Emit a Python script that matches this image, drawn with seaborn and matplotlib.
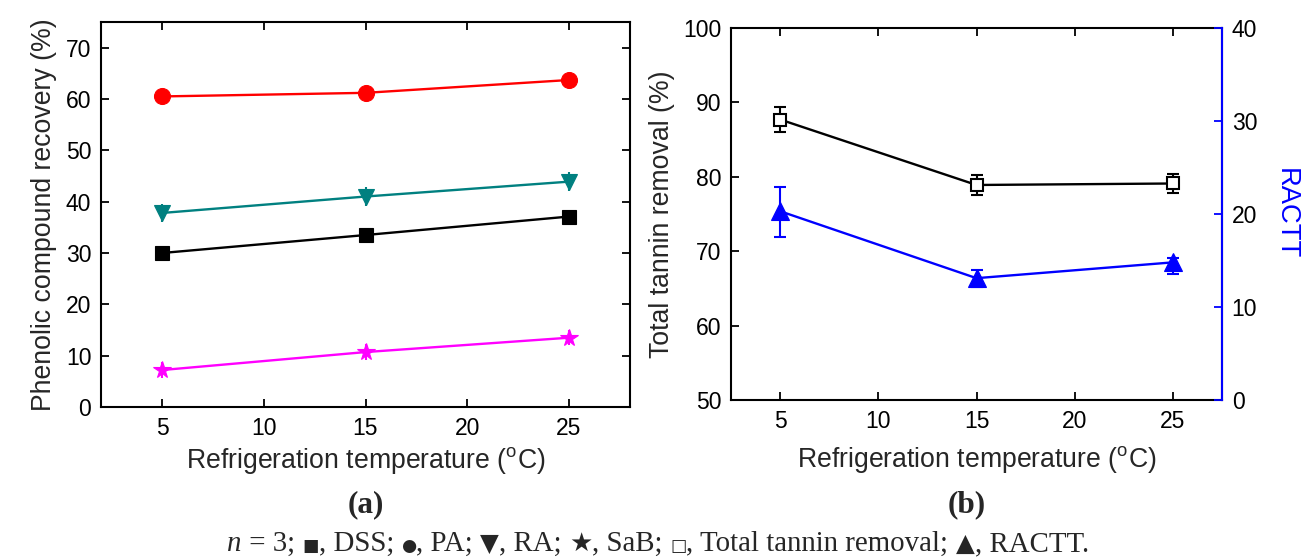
import numpy as np
import pandas as pd
import matplotlib
matplotlib.use("Agg")
import matplotlib.pyplot as plt
import seaborn as sns

# ---- data ----
temps = [5, 15, 25]
dss = [30.0, 33.5, 37.1]
dss_err = [0.3, 0.3, 0.3]
pa = [60.5, 61.2, 63.7]
pa_err = [0.3, 0.3, 0.3]
ra = [37.8, 41.0, 43.9]
ra_err = [1.8, 1.8, 1.8]
sab = [7.2, 10.7, 13.5]
sab_err = [1.5, 1.5, 1.5]
tannin = [87.7, 78.9, 79.1]
tannin_err = [1.7, 1.4, 1.3]
ractt = [20.3, 13.1, 14.8]
ractt_err_low = [2.8, 1.0, 1.3]
ractt_err_high = [2.6, 0.9, 0.5]

x_ticks = [5, 10, 15, 20, 25]
left_yticks = [0, 10, 20, 30, 40, 50, 60, 70]
right_yticks = [50, 60, 70, 80, 90, 100]
twin_yticks = [0, 10, 20, 30, 40]

sns.set_theme(style="white")
plt.rcParams['font.family'] = ['Liberation Sans', 'DejaVu Sans']

W, H = 1312, 559
fig = plt.figure(figsize=(W / 100, H / 100), dpi=100)

def rect(x0, y0, x1, y1):
    return [x0 / W, 1 - y1 / H, (x1 - x0) / W, (y1 - y0) / H]

axA = fig.add_axes(rect(101, 22, 630, 407))
axB = fig.add_axes(rect(731, 28, 1222, 400))

TICK_FS = 16.5
LAB_FS = 19.2
LW = 1.7

def style_ax(ax):
    for s in ax.spines.values():
        s.set_color('black')
        s.set_linewidth(1.5)
        s.set_visible(True)
    ax.tick_params(direction='in', length=6, width=1.3, labelsize=TICK_FS,
                   top=True, right=True, bottom=True, left=True,
                   labeltop=False, labelright=False, colors='black', pad=7)

XLAB = 'Refrigeration temperature ($\\mathregular{^{o}}$C)'

# ---- panel (a) ----
series = [
    (dss, dss_err, 's', 'black', 9.5),
    (pa, pa_err, 'o', 'red', 11.5),
    (ra, ra_err, 'v', '#008080', 12),
    (sab, sab_err, '*', 'magenta', 13),
]
for vals, err, mk, col, ms in series:
    df = pd.DataFrame({'T': temps, 'v': vals})
    axA.errorbar(temps, vals, yerr=err, fmt='none', ecolor=col, elinewidth=1.5,
                 capsize=0, zorder=2)
    sns.lineplot(data=df, x='T', y='v', ax=axA, color=col, marker=mk,
                 markersize=ms, markeredgecolor=col, markeredgewidth=0.8,
                 linewidth=LW, zorder=3)
axA.set_xlim(2, 28)
axA.set_ylim(0, 75)
axA.set_xticks(x_ticks)
axA.set_yticks(left_yticks)
style_ax(axA)
axA.set_xlabel(XLAB, fontsize=LAB_FS, labelpad=4)
axA.set_ylabel('Phenolic compound recovery (%)', fontsize=LAB_FS, labelpad=6)

# ---- panel (b) ----
dft = pd.DataFrame({'T': temps, 'v': tannin})
axB.errorbar(temps, tannin, yerr=tannin_err, fmt='none', ecolor='black',
             elinewidth=1.5, capsize=4, capthick=1.5, zorder=2)
sns.lineplot(data=dft, x='T', y='v', ax=axB, color='black', marker='s',
             markersize=9, markerfacecolor='white', markeredgecolor='black',
             markeredgewidth=1.5, linewidth=LW, zorder=3)
axB.set_xlim(2.5, 27.5)
axB.set_ylim(50, 100)
axB.set_xticks(x_ticks)
axB.set_yticks(right_yticks)
style_ax(axB)
axB.tick_params(right=False)
axB.set_xlabel(XLAB, fontsize=LAB_FS, labelpad=8)
axB.set_ylabel('Total tannin removal (%)', fontsize=LAB_FS, labelpad=6)

axT = axB.twinx()
dfr = pd.DataFrame({'T': temps, 'v': ractt})
axT.errorbar(temps, ractt, yerr=[ractt_err_low, ractt_err_high], fmt='none',
             ecolor='blue', elinewidth=1.5, capsize=4, capthick=1.5, zorder=2)
sns.lineplot(data=dfr, x='T', y='v', ax=axT, color='blue', marker='^',
             markersize=13, markeredgecolor='blue', markeredgewidth=0.8,
             linewidth=LW, zorder=3)
axT.set_ylim(0, 40)
axT.set_yticks(twin_yticks)
axT.set_xlim(2.5, 27.5)
for s in ['top', 'bottom', 'left']:
    axT.spines[s].set_visible(False)
axT.spines['right'].set_color('blue')
axT.spines['right'].set_linewidth(1.5)
axT.tick_params(axis='y', direction='in', length=6, width=1.3, color='blue',
                labelcolor='black', labelsize=TICK_FS, right=True, left=False, pad=7)
axT.set_ylabel('RACTT', fontsize=LAB_FS + 0.5, color='blue', rotation=270, labelpad=30)

# ---- captions ----
serif = ['Liberation Serif', 'DejaVu Serif']
sym = ['DejaVu Sans']
fig.text(366 / W, 1 - 505 / H, '(a)', fontsize=22.5, fontweight='bold',
         family=serif, ha='center', va='center')
fig.text(967 / W, 1 - 505 / H, '(b)', fontsize=22.5, fontweight='bold',
         family=serif, ha='center', va='center')

CAP_FS = 20.8
pieces = [
    ('n', serif, 'italic', CAP_FS),
    (' = 3; ', serif, 'normal', CAP_FS),
    ('\u25A0', sym, 'normal', CAP_FS * 0.6),
    (', DSS; ', serif, 'normal', CAP_FS),
    ('\u25CF', sym, 'normal', CAP_FS * 0.6),
    (', PA; ', serif, 'normal', CAP_FS),
    ('\u25BC', sym, 'normal', CAP_FS * 0.85),
    (', RA; ', serif, 'normal', CAP_FS),
    ('\u2605', sym, 'normal', CAP_FS * 0.9),
    (', SaB; ', serif, 'normal', CAP_FS),
    ('\u25A1', sym, 'normal', CAP_FS * 0.6),
    (', Total tannin removal; ', serif, 'normal', CAP_FS),
    ('\u25B2', sym, 'normal', CAP_FS * 0.85),
    (', RACTT.', serif, 'normal', CAP_FS),
]
renderer = fig.canvas.get_renderer()
y_cap = 1 - 551 / H
texts = []
for s, fam, sty, fs in pieces:
    t = fig.text(0, y_cap, s, fontsize=fs, family=fam, style=sty,
                 ha='left', va='baseline')
    texts.append(t)
widths = [t.get_window_extent(renderer=renderer).width for t in texts]
total = sum(widths)
x = (658 - total / 2)
for t, w in zip(texts, widths):
    t.set_x(x / W)
    x += w

fig.savefig('out.png', dpi=100)
